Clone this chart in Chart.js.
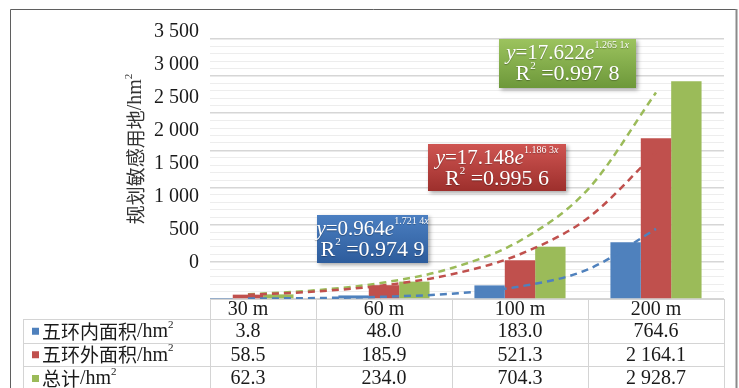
<!DOCTYPE html>
<html>
<head>
<meta charset="utf-8">
<script src="https://cdn.jsdelivr.net/npm/chart.js@4/dist/chart.umd.min.js"></script>
<style>
html, body { margin: 0; padding: 0; background: #fff; }
#wrap { width: 739px; height: 388px; }
</style>
</head>
<body>
<div id="wrap"><canvas id="chart"></canvas></div>
<script>
// Data
const categories = ['30 m', '60 m', '100 m', '200 m'];
const innerArea = [3.8, 48.0, 183.0, 764.6];     // 五环内面积
const outerArea = [58.5, 185.9, 521.3, 2164.1];  // 五环外面积
const totalArea = [62.3, 234.0, 704.3, 2928.7];  // 总计
const seriesNames = ['五环内面积', '五环外面积', '总计'];
const tickLabels = [0, 500, 1000, 1500, 2000, 2500, 3000, 3500];

// dashed exponential trend curves, read at half-category steps
const trendX = [0, 0.5, 1, 1.5, 2, 2.5, 3];
const innerTrend = [5.4, 12.7, 30.1, 71.3, 168.6, 398.7, 942.6];
const outerTrend = [56.2, 101.6, 183.9, 332.8, 602.3, 1090, 1972];
const totalTrend = [62.4, 117.6, 221.3, 416.6, 784, 1476, 2778];

// trend equation labels: coefficient, exponent, R²
const eqCoef = ['0.964', '17.148', '17.622'];
const eqExp = ['1.721 4', '1.186 3', '1.265 1'];
const eqR2 = ['0.974 9', '0.995 6', '0.997 8'];

const colors = ['#4f81bd', '#c0504d', '#9bbb59'];
const serif = '"Liberation Serif", "Times New Roman", serif';
const cjk = '"Noto Sans CJK SC", sans-serif';

const fmt = v => {
    const s = v.toFixed(1).split('.');
    return s[0].replace(/\B(?=(\d{3})+(?!\d))/g, ' ') + '.' + s[1];
};
const fmtTick = v => String(v).replace(/\B(?=(\d{3})+(?!\d))/g, ' ');

const toPoints = arr => arr.map((v, i) => ({ x: i, y: v }));
const toTrend = arr => arr.map((v, i) => ({ x: trendX[i], y: v }));

// draws a run of text pieces with mixed fonts / superscripts
function drawRich(ctx, segs, x, y, align) {
    let total = 0;
    segs.forEach(s => { ctx.font = s.f; total += ctx.measureText(s.t).width; });
    let cx = align === 'center' ? x - total / 2 : x;
    ctx.textAlign = 'left';
    ctx.textBaseline = 'middle';
    segs.forEach(s => {
        ctx.font = s.f;
        ctx.fillText(s.t, cx, y + (s.dy || 0));
        cx += ctx.measureText(s.t).width;
    });
}

const decorPlugin = {
    id: 'decor',
    afterDraw(chart) {
        const ctx = chart.ctx;
        const xs = chart.scales.x;
        const area = chart.chartArea;
        ctx.save();

        // ---- data table ----
        const rowTop = [area.bottom, 319, 342.5, 366, 390];
        const colEdges = [area.left];
        for (let i = 0; i < categories.length; i++) colEdges.push(xs.getPixelForValue(i + 0.5));
        ctx.strokeStyle = '#d4d4d4';
        ctx.lineWidth = 1;
        ctx.beginPath();
        ctx.moveTo(area.left, Math.round(rowTop[0]) + 0.5); ctx.lineTo(colEdges[4], Math.round(rowTop[0]) + 0.5);
        for (let r = 1; r < 4; r++) {
            ctx.moveTo(23, Math.round(rowTop[r]) + 0.5); ctx.lineTo(colEdges[4], Math.round(rowTop[r]) + 0.5);
        }
        colEdges.forEach(cx => { ctx.moveTo(Math.round(cx) + 0.5, rowTop[0]); ctx.lineTo(Math.round(cx) + 0.5, 388); });
        ctx.moveTo(23.5, rowTop[1]); ctx.lineTo(23.5, 388);
        ctx.stroke();

        ctx.fillStyle = '#1a1a1a';
        const cellFont = '20px ' + serif;
        categories.forEach((c, i) => {
            const cx = xs.getPixelForValue(i);
            drawRich(ctx, [{ t: c, f: cellFont }], cx, (rowTop[0] + rowTop[1]) / 2 + 1, 'center');
        });
        const rows = [innerArea, outerArea, totalArea];
        rows.forEach((vals, r) => {
            const cy = (rowTop[r + 1] + rowTop[r + 2]) / 2 + 1;
            vals.forEach((v, i) => {
                drawRich(ctx, [{ t: fmt(v), f: cellFont }], xs.getPixelForValue(i), cy, 'center');
            });
            ctx.fillStyle = colors[r];
            ctx.fillRect(32, cy - 4, 7, 7);
            ctx.fillStyle = '#1a1a1a';
            drawRich(ctx, [
                { t: seriesNames[r], f: '19px ' + cjk },
                { t: '/hm', f: '20px ' + serif },
                { t: '2', f: '11px ' + serif, dy: -7 }
            ], 42, cy, 'left');
        });

        // ---- y axis title ----
        ctx.save();
        ctx.translate(136, 149);
        ctx.rotate(-Math.PI / 2);
        ctx.fillStyle = '#333';
        drawRich(ctx, [
            { t: '规划敏感用地', f: '19px ' + cjk },
            { t: '/hm', f: '20px ' + serif },
            { t: '2', f: '11px ' + serif, dy: -7 }
        ], 0, 0, 'center');
        ctx.restore();

        // ---- equation boxes ----
        const boxes = [
            { x: 317, y: 215, w: 111, h: 48, top: '#4b7fc1', bot: '#2d5c9c' },
            { x: 428, y: 144, w: 138, h: 47, top: '#cf5552', bot: '#9d2f2c' },
            { x: 499, y: 39, w: 137, h: 49, top: '#9cc35e', bot: '#6d983a' }
        ];
        boxes.forEach((b, i) => {
            ctx.save();
            ctx.shadowColor = 'rgba(0,0,0,0.35)';
            ctx.shadowBlur = 4;
            ctx.shadowOffsetX = 2;
            ctx.shadowOffsetY = 2;
            const g = ctx.createLinearGradient(0, b.y, 0, b.y + b.h);
            g.addColorStop(0, b.top);
            g.addColorStop(1, b.bot);
            ctx.fillStyle = g;
            ctx.fillRect(b.x, b.y, b.w, b.h);
            ctx.restore();
            ctx.save();
            ctx.fillStyle = '#fff';
            ctx.shadowColor = 'rgba(0,0,0,0.3)';
            ctx.shadowBlur = 1;
            ctx.shadowOffsetY = 1;
            const cx = b.x + b.w / 2;
            drawRich(ctx, [
                { t: 'y', f: 'italic 21px ' + serif },
                { t: '=' + eqCoef[i], f: '21px ' + serif },
                { t: 'e', f: 'italic 21px ' + serif },
                { t: eqExp[i], f: '10px ' + serif, dy: -8 },
                { t: 'x', f: 'italic 10px ' + serif, dy: -8 }
            ], cx, b.y + 14, 'center');
            drawRich(ctx, [
                { t: 'R', f: '22px ' + serif },
                { t: '2', f: '11px ' + serif, dy: -8 },
                { t: ' =' + eqR2[i], f: '22px ' + serif }
            ], cx, b.y + 35, 'center');
            ctx.restore();
        });

        // ---- outer frame ----
        ctx.strokeStyle = '#5f5f5f';
        ctx.lineWidth = 1;
        ctx.beginPath();
        ctx.moveTo(10.5, 400); ctx.lineTo(10.5, 9.5); ctx.lineTo(737, 9.5);
        ctx.stroke();
        ctx.strokeStyle = '#8a8a8a';
        ctx.lineWidth = 2;
        ctx.beginPath();
        ctx.moveTo(736.5, 9); ctx.lineTo(736.5, 400);
        ctx.stroke();
        ctx.restore();
    }
};

const barBase = {
    type: 'bar',
    yAxisID: 'y',
    categoryPercentage: 0.67,
    barPercentage: 1,
    borderWidth: 0,
    order: 2
};
const lineBase = {
    type: 'line',
    yAxisID: 'y',
    borderWidth: 2.5,
    borderDash: [7, 5],
    pointRadius: 0,
    fill: false,
    cubicInterpolationMode: 'monotone',
    order: 0
};

new Chart(document.getElementById('chart'), {
    type: 'bar',
    data: {
        datasets: [
            { ...barBase, label: seriesNames[0], data: toPoints(innerArea), backgroundColor: colors[0] },
            { ...barBase, label: seriesNames[1], data: toPoints(outerArea), backgroundColor: colors[1] },
            { ...barBase, label: seriesNames[2], data: toPoints(totalArea), backgroundColor: colors[2] },
            { ...lineBase, label: 'trend1', data: toTrend(innerTrend), borderColor: '#4f81bd' },
            { ...lineBase, label: 'trend2', data: toTrend(outerTrend), borderColor: '#c0504d' },
            { ...lineBase, label: 'trend3', data: toTrend(totalTrend), borderColor: '#9bbb59' }
        ]
    },
    options: {
        responsive: true,
        maintainAspectRatio: false,
        animation: false,
        layout: { padding: { top: 20, right: 15, left: 0, bottom: 0 } },
        plugins: {
            legend: { display: false },
            tooltip: { enabled: false }
        },
        scales: {
            x: {
                type: 'linear',
                offset: false,
                min: -0.279,
                max: 3.5,
                grid: { display: false },
                border: { display: false },
                afterBuildTicks: s => { s.ticks = categories.map((c, i) => ({ value: i })); },
                ticks: { display: false },
                afterFit: s => { s.height = 89; }
            },
            yl: {
                type: 'linear',
                position: 'left',
                min: -556,
                max: 3640,
                grid: { display: false, drawTicks: false },
                border: { display: false },
                afterBuildTicks: s => { s.ticks = tickLabels.map(v => ({ value: v })); },
                ticks: {
                    padding: 11,
                    color: '#1a1a1a',
                    font: { family: serif, size: 20 },
                    callback: v => fmtTick(v)
                },
                afterFit: s => { s.width = 210; }
            },
            y: {
                type: 'linear',
                position: 'left',
                min: 0,
                max: 3713,
                border: { display: false },
                ticks: { display: false, stepSize: 100 },
                grid: {
                    drawTicks: false,
                    color: c => c.tick.value > 3500 ? 'rgba(0,0,0,0)' : (c.tick.value % 500 === 0 ? '#d6d6d6' : '#ededed'),
                    lineWidth: c => c.tick.value % 500 === 0 ? 1.5 : 1
                },
                afterFit: s => { s.width = 0; }
            }
        }
    },
    plugins: [decorPlugin]
});
</script>
</body>
</html>
